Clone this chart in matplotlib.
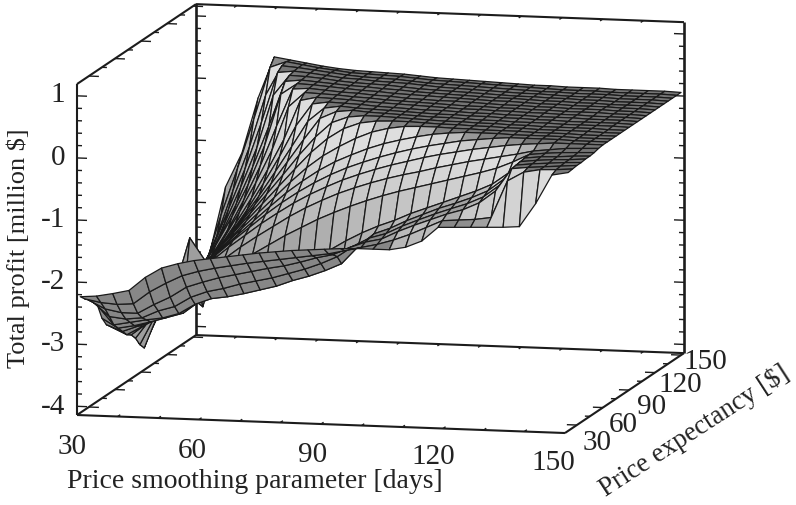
import numpy as np
import matplotlib
matplotlib.use("Agg")
import matplotlib.pyplot as plt
from mpl_toolkits.mplot3d import proj3d

W, H = 796, 505
plt.rcParams['font.family'] = ['Liberation Serif', 'DejaVu Serif']

smoothing_days = list(range(30, 151, 4))
expectancy = list(range(20, 151, 5))

z020 = [-2.27,-2.25,-2.2,-2.14,-1.92,-1.76,-1.68,-1.62,-1.58,-1.54,-1.5,-1.46,-1.43,-1.4,-1.38,-1.36,-1.34,-1.33,-1.33,-1.33,-1.28,-1.17,-.94,-.93,-.92,-.91,-.9,-.88,-.5,-.03,.02]
z025 = [-2.35,-2.4,-2.42,-2.4,-2.2,-2.05,-1.92,-1.84,-1.78,-1.73,-1.68,-1.64,-1.6,-1.56,-1.52,-1.48,-1.42,-1.36,-1.3,-1.22,-1.12,-1.0,-.88,-.86,-.84,-.8,-.2,-.05,0,.01,.03]
z030 = [-2.42,-2.55,-2.6,-2.6,-2.45,-2.32,-2.15,-2.06,-1.98,-1.92,-1.86,-1.8,-1.75,-1.68,-1.6,-1.54,-1.42,-1.32,-1.26,-1.13,-1.02,-.92,-.82,-.74,-.62,-.42,-.05,-.02,0,.02,.04]
z035 = [-2.5,-2.72,-2.75,-2.72,-2.6,-2.52,-2.36,-2.26,-2.2,-2.12,-2.06,-2.0,-1.92,-1.84,-1.74,-1.62,-1.44,-1.3,-1.22,-1.09,-.98,-.875,-.78,-.69,-.57,-.37,-.04,-.01,.01,.03,.04]
z040 = [-2.6,-2.9,-2.85,-2.8,-2.76,-2.68,-2.52,-2.42,-2.38,-2.32,-2.25,-2.18,-2.08,-2.0,-1.9,-1.78,-1.5,-1.28,-1.18,-1.05,-.94,-.83,-.74,-.64,-.52,-.32,-.03,0,.02,.03,.05]
z045 = [-2.85,-3.0,-2.95,-2.88,-2.8,-2.72,-2.52,-2.4,-2.3,-2.22,-2.12,-2.02,-1.9,-1.78,-1.62,-1.46,-1.32,-1.2,-1.1,-.98,-.88,-.78,-.68,-.58,-.46,-.27,-.02,.01,.02,.04,.05]
z050 = [-3.0,-3.1,-3.0,-2.9,-2.75,-2.55,-2.3,-2.12,-1.95,-1.78,-1.62,-1.46,-1.32,-1.18,-1.06,-.95,-.85,-.76,-.68,-.61,-.54,-.47,-.4,-.33,-.25,-.14,-.01,.02,.04,.05,.06]
z055 = [-3.08,-3.2,-3.05,-2.9,-2.62,-2.35,-2.12,-1.92,-1.72,-1.54,-1.37,-1.2,-1.05,-.92,-.8,-.7,-.61,-.53,-.46,-.4,-.33,-.27,-.21,-.16,-.11,-.06,0,.03,.06,.07,.08]
z060 = [-3.1,-3.25,-3.05,-2.8,-2.5,-2.2,-2.0,-1.78,-1.58,-1.38,-1.2,-1.03,-.88,-.75,-.63,-.53,-.44,-.36,-.29,-.22,-.16,-.11,-.06,-.02,.02,.05,.07,.09,.09,.09,.09]
z065 = [-3.05,-3.35,-3,-2.7,-2.45,-2.2,-1.95,-1.72,-1.5,-1.28,-1.08,-.9,-.74,-.6,-.48,-.38,-.29,-.21,-.14,-.08,-.03,.02,.05,.08,.10,.10,.10,.10,.09,.09,.09]
z070 = [-3,-3.5,-3,-2.65,-2.42,-2.15,-1.92,-1.68,-1.44,-1.2,-.97,-.77,-.59,-.44,-.32,-.21,-.12,-.05,.01,.06,.09,.11,.11,.11,.10,.10,.10,.10,.09,.09,.09]
z075 = [-3,-3.6,-2.95,-2.62,-2.4,-2.12,-1.88,-1.62,-1.36,-1.1,-.84,-.6,-.4,-.24,-.1,.01,.08,.12,.13,.13,.12,.12,.11,.11,.11,.10,.10,.10,.09,.09,.09]
z080 = [-3.0,-3.45,-2.9,-2.62,-2.38,-2.13,-1.85,-1.55,-1.26,-.97,-.68,-.40,-.17,.0,.10,.14,.15,.15,.14,.13,.13,.12,.12,.11,.11,.10,.10,.10,.10,.09,.09]
z085 = [-3.0,-3.2,-2.85,-2.6,-2.38,-2.08,-1.78,-1.47,-1.15,-.83,-.50,-.20,.04,.14,.17,.17,.16,.15,.14,.13,.13,.12,.12,.11,.11,.10,.10,.10,.10,.09,.09]
z090 = [-3.0,-3.0,-2.85,-1.95,-2.33,-2.03,-1.72,-1.38,-1.03,-.67,-.30,.05,.17,.20,.18,.17,.16,.15,.14,.14,.13,.12,.12,.11,.11,.11,.10,.10,.10,.10,.09]
z095 = [-3.03,-3.0,-2.9,-2.65,-2.32,-2.0,-1.65,-1.28,-.88,-.47,-.05,.17,.21,.19,.18,.17,.16,.15,.14,.14,.13,.13,.12,.12,.11,.11,.10,.10,.10,.10,.09]
z100 = [-3.05,-3.0,-2.95,-2.8,-2.3,-1.95,-1.56,-1.13,-.68,-.18,.18,.22,.21,.20,.18,.17,.16,.15,.15,.14,.13,.13,.12,.12,.11,.11,.11,.10,.10,.10,.09]
z105 = [-3.08,-3.0,-3.0,-3.2,-2.25,-1.85,-1.42,-.95,-.45,.18,.24,.23,.22,.20,.19,.18,.17,.16,.15,.14,.14,.13,.13,.12,.12,.11,.11,.10,.10,.10,.09]
z110 = [-3.1,-2.95,-2.9,-2.55,-2.15,-1.7,-1.22,-.68,.02,.26,.25,.24,.22,.21,.19,.18,.17,.16,.15,.14,.14,.13,.13,.12,.12,.11,.11,.11,.10,.10,.09]
z115 = [-3.15,-2.95,-2.85,-2.48,-2.05,-1.55,-1.0,-.35,.26,.28,.26,.24,.23,.21,.20,.18,.17,.16,.16,.15,.14,.13,.13,.12,.12,.11,.11,.11,.10,.10,.09]
z120 = [-3.2,-2.95,-2.8,-2.35,-1.88,-1.35,-.72,.12,.30,.29,.27,.25,.23,.22,.20,.19,.18,.17,.16,.15,.14,.14,.13,.12,.12,.11,.11,.11,.10,.10,.09]
z125 = [-3.25,-2.95,-2.75,-2.25,-1.72,-1.12,-.45,.28,.31,.29,.27,.25,.24,.22,.21,.19,.18,.17,.16,.15,.14,.14,.13,.12,.12,.11,.11,.10,.10,.10,.09]
z130 = [-3.3,-3.0,-2.72,-2.1,-1.5,-.85,.0,.33,.32,.30,.27,.25,.24,.23,.21,.19,.18,.17,.16,.15,.14,.13,.13,.12,.12,.11,.11,.10,.10,.10,.09]
z135 = [-3.38,-3.0,-2.55,-1.9,-1.25,-.5,.32,.35,.33,.30,.27,.26,.24,.23,.22,.20,.18,.17,.16,.15,.14,.13,.13,.12,.11,.11,.11,.10,.10,.10,.09]
z140 = [-3.42,-3.0,-2.4,-1.65,-.95,-.1,.38,.36,.33,.30,.27,.25,.24,.23,.21,.19,.18,.17,.16,.15,.14,.13,.12,.12,.11,.11,.11,.10,.10,.10,.09]
z145 = [-3.48,-2.95,-2.1,-1.35,-.55,.30,.40,.36,.32,.29,.26,.25,.24,.23,.21,.19,.18,.17,.16,.15,.14,.13,.12,.11,.11,.11,.10,.10,.10,.10,.09]
z150 = [-3.5,-2.8,-1.7,-1.15,-.25,.42,.38,.34,.30,.27,.25,.24,.23,.22,.20,.18,.17,.16,.15,.14,.13,.12,.12,.11,.11,.11,.10,.10,.10,.10,.09]

x_ticks = [30, 60, 90, 120, 150]
y_ticks = [30, 60, 90, 120, 150]
z_ticks = [-4, -3, -2, -1, 0, 1]
x_title = 'Price smoothing parameter [days]'
y_title = 'Price expectancy [$]'
z_title = 'Total profit [million $]'

profit = np.array([z020,z025,z030,z035,z040,z045,z050,z055,z060,z065,z070,z075,z080,z085,z090,
                   z095,z100,z105,z110,z115,z120,z125,z130,z135,z140,z145,z150], dtype=float)
X, Y = np.meshgrid(smoothing_days, expectancy)

xlo, xhi = 30.0, 150.0
ylo, yhi = 16.3, 153.4
zlo, zhi = -4.14, 1.19
aspect = (501, 521, 335)

fig = plt.figure(figsize=(W/100, H/100), dpi=100)
S = 1000.0
def set_pos(cx, cy):
    return [(cx-S/2)/W, (cy-S/2)/H, S/W, S/H]
cx, cy = W/2, H/2
ax = fig.add_axes(set_pos(cx, cy), projection='3d')
ax.set_proj_type('ortho')
ax.view_init(elev=9.06, azim=-76.8)
ax.set_xlim(xlo, xhi, view_margin=0)
ax.set_ylim(ylo, yhi, view_margin=0)
ax.set_zlim(zlo, zhi, view_margin=0)
ax.set_axis_off()
ax.patch.set_alpha(0)
ax.computed_zorder = False
ax.set_box_aspect(aspect, zoom=1.0)

def project(x, y, z):
    ax.apply_aspect()
    M = ax.get_proj()
    tx, ty, _ = proj3d.proj_transform(x, y, z, M)
    return ax.transData.transform((tx, ty))

p1 = project(xlo, ylo, zlo); p2 = project(xhi, ylo, zlo)
zoom = 488.3/np.hypot(*(p2-p1))
ax.set_box_aspect(aspect, zoom=zoom)
p1 = project(xlo, ylo, zlo)
cx += 77 - p1[0]
cy += (H-415) - p1[1]
ax.set_position(set_pos(cx, cy))

# shading per cell from the surface slope and height
sx, sy, sz = 501/(xhi-xlo), 521/(yhi-ylo), 335/(zhi-zlo)
dx = np.diff(smoothing_days)[0]; dy = np.diff(expectancy)[0]
dzdx = ((profit[:-1,1:]-profit[:-1,:-1])+(profit[1:,1:]-profit[1:,:-1]))/(2*dx)
dzdy = ((profit[1:,:-1]-profit[:-1,:-1])+(profit[1:,1:]-profit[:-1,1:]))/(2*dy)
nx, ny = -dzdx*sz/sx, -dzdy*sz/sy
zc = (profit[:-1,:-1]+profit[1:,1:])/2
t = np.clip((-ny + 0.6*np.clip(-nx, 0, None) - 0.15)/0.4, 0, 1)
g_face = np.clip(0.75 + 0.15*(zc+1.0), 0.62, 0.87)
g = 0.46*(1-t) + g_face*t
g = np.where(ny > 1.0, 0.34, g)
g = np.where((zc < -1.2) & (t < 0.5) & (ny <= 1.0), 0.53, g)
fc = np.ones(profit.shape + (4,))
fc[:-1,:-1,0] = g; fc[:-1,:-1,1] = g; fc[:-1,:-1,2] = g

ink = '#1c1c1c'
lw_box = 1.5
def seg(a, b, zo, lw=lw_box):
    ax.plot([a[0], b[0]], [a[1], b[1]], [a[2], b[2]], color=ink, lw=lw, zorder=zo, solid_capstyle='butt')

seg((xlo, yhi, zlo), (xhi, yhi, zlo), 1)
seg((xlo, yhi, zhi), (xhi, yhi, zhi), 1)
seg((xlo, yhi, zlo), (xlo, yhi, zhi), 1, 1.9)
seg((xhi, yhi, zlo), (xhi, yhi, zhi), 1, 1.9)
seg((xlo, ylo, zhi), (xlo, yhi, zhi), 1)
seg((xlo, ylo, zlo), (xlo, yhi, zlo), 1)
seg((xhi, ylo, zlo), (xhi, yhi, zlo), 1)
seg((xlo, ylo, zlo), (xhi, ylo, zlo), 1)
seg((xlo, ylo, zlo), (xlo, ylo, zhi), 1)

tick_w = 1.0
xpx = 4.067
for t_ in np.arange(-4, 1.01, 0.2):
    L = (10 if abs(t_-round(t_)) < 1e-6 else 5)/xpx
    seg((xlo, ylo, t_), (xlo+L, ylo, t_), 1, tick_w)
    seg((xlo, yhi, t_), (xlo+L, yhi, t_), 1, tick_w)
    seg((xhi, yhi, t_), (xhi-L, yhi, t_), 1, tick_w)
for t_ in np.arange(30, 151, 15):
    L = (10 if (t_-30) % 30 == 0 else 5)/xpx
    seg((xlo, t_, zlo), (xlo+L, t_, zlo), 1, tick_w)
    seg((xlo, t_, zhi), (xlo+L, t_, zhi), 1, tick_w)
    seg((xhi, t_, zlo), (xhi-L, t_, zlo), 1, tick_w)
for t_ in np.arange(40, 150, 10):
    seg((t_, ylo, zlo), (t_, ylo+3, zlo), 1, tick_w)
    seg((t_, yhi, zlo), (t_, yhi-3, zlo), 1, tick_w)
    seg((t_, yhi, zhi), (t_, yhi-3, zhi), 1, tick_w)

ax.plot_surface(X, Y, profit, rstride=1, cstride=1, facecolors=fc, shade=False,
                edgecolor='#1a1a1a', linewidth=0.9, antialiased=True, zorder=2)

txt = '#222222'
fs = 20.2
def label(px, py, s, **kw):
    kw.setdefault('ha', 'center'); kw.setdefault('va', 'center')
    fig.text(px/W, 1-py/H, s, fontsize=kw.pop('fs', fs), color=txt, **kw)

for t_, py in zip(z_ticks, [407, 344, 282, 220, 158, 95]):
    label(65, py, str(t_), ha='right', fs=21)
for t_, px, py in zip(x_ticks, [72, 192, 313, 433, 553], [447, 451, 455, 457, 463]):
    label(px, py, str(t_), fs=21)
for t_, px, py in zip(y_ticks, [597, 623, 652, 680, 705], [443, 425, 407, 385, 362]):
    label(px, py, str(t_), fs=21)
label(255, 481, x_title, fs=20)
label(18, 248, z_title, rotation=90, fs=19)
label(694, 431, y_title, rotation=33, rotation_mode='anchor', fs=19.4)

fig.savefig('out.png', dpi=100)
